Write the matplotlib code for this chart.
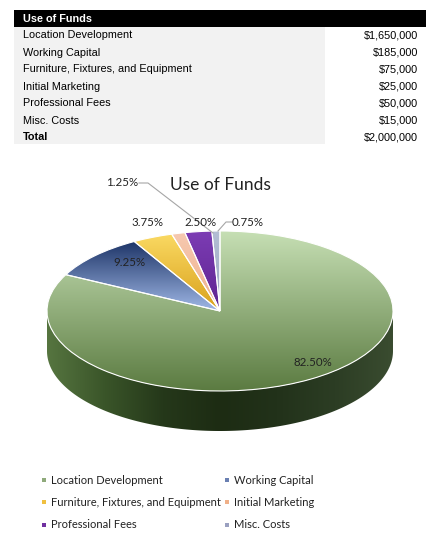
import numpy as np
import matplotlib
matplotlib.use("Agg")
import matplotlib.pyplot as plt
from matplotlib.colors import LinearSegmentedColormap
from matplotlib.patches import Polygon, Rectangle

# table / chart data
fund_items = ["Location Development", "Working Capital",
              "Furniture, Fixtures, and Equipment", "Initial Marketing",
              "Professional Fees", "Misc. Costs"]
fund_amounts = [1650000, 185000, 75000, 25000, 50000, 15000]
table_title = "Use of Funds"
chart_title = "Use of Funds"

# top gradient (top colour, bottom colour) and legend colour for each slice
top_colors = [("#c6dfb4", "#5b7b41"), ("#1d3467", "#a0b8e6"),
              ("#fad962", "#d9a11c"), ("#f6c9b0", "#efb08c"),
              ("#7c3cb4", "#5e2490"), ("#b4bed4", "#98a4c0")]
legend_colors = ["#8faa7b", "#6a80b2", "#f0c040", "#f0b088", "#7030a0", "#9aa0c0"]
side_stops = ["#567540", "#3a5529", "#25381a", "#1d2c13", "#22321a", "#2c3d24", "#3a4c30"]

W, H = 434, 542
fig = plt.figure(figsize=(W / 100, H / 100), dpi=100)

# ---------- table (pixel coords overlay) ----------
tab = fig.add_axes([0, 0, 1, 1])
tab.set_xlim(0, W)
tab.set_ylim(H, 0)
tab.axis("off")

tab.add_patch(Rectangle((14, 27), 311, 117, color="#f2f2f2", lw=0))
tab.add_patch(Rectangle((14, 10), 412, 17, color="black", lw=0))
tab.text(23, 18.5, table_title, color="white", fontweight="bold",
         fontsize=7.8, family="Liberation Sans", va="center")

row_y = 35.5
row_step = 17
for name, amt in zip(fund_items, fund_amounts):
    tab.text(23, row_y, name, fontsize=7.8, family="Liberation Sans", va="center")
    tab.text(418, row_y, "${:,}".format(amt), fontsize=7.8,
             family="Liberation Sans", va="center", ha="right")
    row_y += row_step
tab.text(23, row_y, "Total", fontsize=7.8, fontweight="bold",
         family="Liberation Sans", va="center")
tab.text(418, row_y, "${:,}".format(sum(fund_amounts)), fontsize=7.8,
         family="Liberation Sans", va="center", ha="right")

# ---------- 3D-ish pie ----------
cx, cy, rx, ry = 220, 311, 173, 80
depth = 0.5  # side height in y units (1 unit = ry px)
ylo, yhi = -1.6, 1.1
pax = fig.add_axes([(cx - rx) / W, (H - (cy - ylo * ry)) / H,
                    2 * rx / W, (yhi - ylo) * ry / H])

wedges, _ = pax.pie(fund_amounts, startangle=90, counterclock=False,
                    wedgeprops=dict(edgecolor="white", linewidth=0.8))
pax.set_aspect("auto")


def gradient_fill(ax, clip, colors, extent, horizontal=False, z=2):
    cmap = LinearSegmentedColormap.from_list("g", colors)
    g = np.linspace(0, 1, 256)
    img = g.reshape(1, -1) if horizontal else g.reshape(-1, 1)
    im = ax.imshow(img, cmap=cmap, extent=extent, aspect="auto",
                   origin="upper", zorder=z, interpolation="bilinear")
    im.set_clip_path(clip)


# side band under the front half of the pie
for w, cols in zip(wedges, top_colors):
    for shift in (-360, 0, 360):
        a = max(w.theta1 + shift, -180)
        b = min(w.theta2 + shift, 0)
        if b <= a:
            continue
        t = np.radians(np.linspace(a, b, 200))
        top = np.column_stack([np.cos(t), np.sin(t)])
        bot = np.column_stack([np.cos(t), np.sin(t) - depth])[::-1]
        side = Polygon(np.vstack([top, bot]), closed=True, fc="none",
                       ec="none", zorder=1)
        pax.add_patch(side)
        gradient_fill(pax, side, side_stops, (-1, 1, -1 - depth, 0),
                      horizontal=True, z=1)

# top surface with gradients
for w, cols in zip(wedges, top_colors):
    x0, y0, x1, y1 = w.get_path().get_extents().extents
    gradient_fill(pax, w, cols, (x0, x1, y0, y1), z=2)
    w.set_facecolor("none")
    w.set_zorder(3)

pax.set_xlim(-1, 1)
pax.set_ylim(ylo, yhi)
pax.axis("off")

# ---------- labels, title, legend (pixel overlay) ----------
ov = fig.add_axes([0, 0, 1, 1])
ov.set_xlim(0, W)
ov.set_ylim(H, 0)
ov.axis("off")

total = sum(fund_amounts)
label_pos = [(313, 362), (129, 262), (147, 222), (122, 183), (200, 222), (248, 222)]
for amt, (lx, ly) in zip(fund_amounts, label_pos):
    ov.text(lx, ly, "{:.2f}%".format(100 * amt / total), fontsize=8.3,
            family="Lato", ha="center", va="center", color="#222222")

ov.plot([139, 148, 213], [183, 183, 233], color="#a6a6a6", lw=0.8)
ov.plot([232, 226, 218], [222, 222, 231], color="#a6a6a6", lw=0.8)

ov.text(220, 185, chart_title, fontsize=12.5, family="Lato",
        ha="center", va="center", color="#222222")

leg_x = [44, 227]
leg_y = [480, 502, 525]
for i, (name, col) in enumerate(zip(fund_items, legend_colors)):
    x = leg_x[i % 2]
    y = leg_y[i // 2]
    ov.add_patch(Rectangle((x - 2, y - 2), 4, 4, color=col, lw=0))
    ov.text(x + 7, y, name, fontsize=8, family="Lato", va="center",
            color="#222222")

fig.savefig("out.png", dpi=100)
